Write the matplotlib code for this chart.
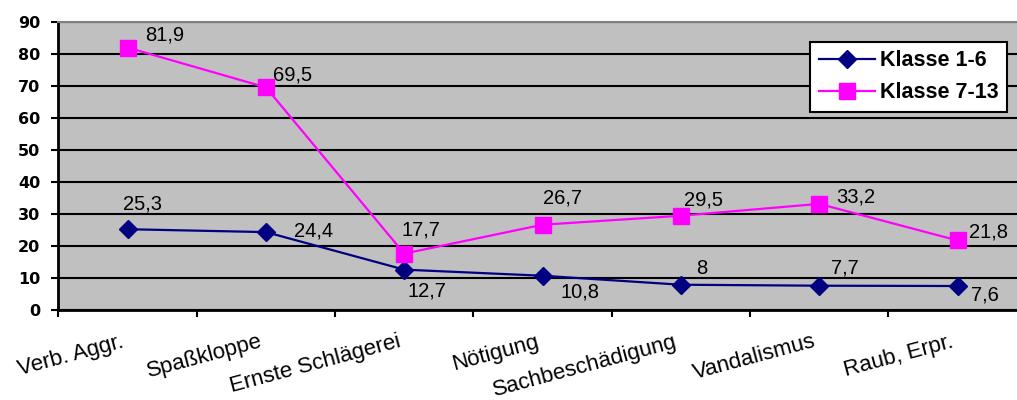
import matplotlib.pyplot as plt
from matplotlib.ticker import FixedLocator, MultipleLocator
import matplotlib.transforms as mtransforms

plt.rcParams["font.family"] = ["Liberation Sans", "DejaVu Sans"]

categories = ["Verb. Aggr.", "Spaßkloppe", "Ernste Schlägerei", "Nötigung",
              "Sachbeschädigung", "Vandalismus", "Raub, Erpr."]
klasse_1_6 = [25.3, 24.4, 12.7, 10.8, 8, 7.7, 7.6]
klasse_7_13 = [81.9, 69.5, 17.7, 26.7, 29.5, 33.2, 21.8]

# value label offsets in pixels: left edge of text and digit middle, relative to the point
off_1_6 = [(-5, 27), (28, 3), (3, -20), (18, -15), (15, 18), (12, 19), (13, -7)]
off_7_13 = [(17, 14), (7, 14), (-3, 25), (0, 28), (3, 17), (17, 8), (11, 10)]

fig = plt.figure(figsize=(10.17, 4.0), dpi=100, facecolor="white")
ax = fig.add_axes([0.0575, 0.224, 0.9425, 0.722])
ax.set_facecolor("#C0C0C0")

x = list(range(len(categories)))
ax.plot(x, klasse_1_6, color="#000080", lw=1.6, marker="D", markersize=9,
        label="Klasse 1-6", zorder=3)
ax.plot(x, klasse_7_13, color="#FF00FF", lw=1.6, marker="s", markersize=11,
        label="Klasse 7-13", zorder=3)


def label_points(vals, offsets):
    for xi, v, (dx, dy) in zip(x, vals, offsets):
        ax.annotate(f"{v:g}".replace(".", ","), (xi, v), xytext=(dx, dy - 7),
                    textcoords="offset pixels", ha="left", va="baseline",
                    fontsize=14.5)


label_points(klasse_1_6, off_1_6)
label_points(klasse_7_13, off_7_13)

ax.set_xlim(-0.5, 6.43)
ax.set_ylim(0, 90)
ax.yaxis.set_major_locator(MultipleLocator(10))
ax.set_axisbelow(True)
ax.yaxis.grid(True, color="black", lw=1.5)

for side in ["left", "bottom"]:
    ax.spines[side].set_linewidth(2)
    ax.spines[side].set_color("black")
ax.spines["right"].set_visible(False)
ax.spines["top"].set_color("#808080")
ax.spines["top"].set_linewidth(1.5)

ax.tick_params(axis="y", length=5, width=1.5, pad=8)
for lbl in ax.get_yticklabels():
    lbl.set_fontweight("bold")
    lbl.set_fontfamily("DejaVu Sans")
    lbl.set_fontsize(11.5)

ax.set_xticks(x)
ax.set_xticklabels(categories, rotation=15, ha="right", va="top",
                   rotation_mode="anchor", fontsize=16)
ax.xaxis.set_minor_locator(FixedLocator([i - 0.5 for i in x]))
ax.tick_params(axis="x", which="major", length=0, pad=15)
ax.tick_params(axis="x", which="minor", length=5, width=1.5)
shift = mtransforms.ScaledTranslation(-7 / 100, 0, fig.dpi_scale_trans)
for lbl in ax.get_xticklabels():
    lbl.set_transform(lbl.get_transform() + shift)

leg = ax.legend(loc="upper right", bbox_to_anchor=(0.99, 0.93), fancybox=False,
                edgecolor="black", framealpha=1, borderaxespad=0,
                prop={"weight": "bold", "size": 15.5}, handlelength=2.6,
                handletextpad=0.25, labelspacing=0.5, borderpad=0.4)
leg.get_frame().set_linewidth(1.5)

fig.savefig("out.png", dpi=100)
